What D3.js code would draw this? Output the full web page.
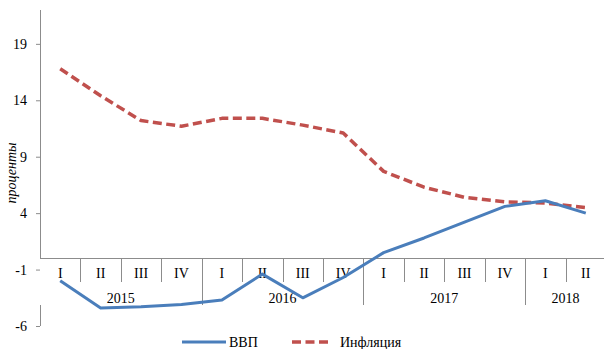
<!DOCTYPE html>
<html>
<head>
<meta charset="utf-8">
<script src="https://cdn.jsdelivr.net/npm/d3@7"></script>
<style>
  html, body { margin: 0; padding: 0; background: #fff; }
  svg { display: block; }
  text { font-family: "Liberation Serif", "Times New Roman", serif; fill: #000; }
</style>
</head>
<body>
<div id="chart"></div>
<script>
// Quarterly series, 2015 Q1 – 2018 Q2 (percent)
const quarters = ["I", "II", "III", "IV", "I", "II", "III", "IV", "I", "II", "III", "IV", "I", "II"];
const years = ["2015", "2016", "2017", "2018"];
const yearQuarterCounts = [4, 4, 4, 2];
const gdp = [-2.0, -4.4, -4.3, -4.1, -3.7, -1.4, -3.5, -1.7, 0.5, 1.8, 3.2, 4.6, 5.1, 4.0];
const inflation = [16.8, 14.4, 12.2, 11.7, 12.4, 12.4, 11.8, 11.1, 7.7, 6.3, 5.4, 5.0, 4.9, 4.5];
const yTicks = [-6, -1, 4, 9, 14, 19];
const seriesNames = ["ВВП", "Инфляция"];
const yTitle = "проценты";

const W = 604, H = 349;
const axisColor = "#8c8c8c";
const blue = "#4a7ebb";
const red = "#c0504d";
const serif = "'Liberation Serif', 'Times New Roman', serif";

const svg = d3.select("#chart").append("svg")
  .attr("width", W).attr("height", H);

const idx = quarters.map((_, i) => i);
const x = d3.scaleBand().domain(idx).range([40, 606]).padding(0);
const y = d3.scaleLinear().domain([-6, 22]).range([326, 10]);
const cx = i => x(i) + x.bandwidth() / 2;

// Value axis: ticks and labels, with the spine broken behind the category labels
const yAxis = d3.axisLeft(y).tickValues(yTicks).tickSize(4).tickPadding(9)
  .tickFormat(d => String(d));
const yg = svg.append("g").attr("transform", "translate(40,0)").call(yAxis)
  .attr("font-family", serif).attr("font-size", 14);
yg.select(".domain").remove();
yg.selectAll(".tick line").attr("stroke", axisColor);
yg.selectAll(".tick text")
  .style("font-family", serif)
  .style("font-size", "14px")
  .attr("fill", "#000");

const spine = svg.append("g").attr("stroke", axisColor).attr("stroke-width", 1);
spine.append("line").attr("x1", 40.5).attr("x2", 40.5).attr("y1", y(22)).attr("y2", y(0));
spine.append("line").attr("x1", 40.5).attr("x2", 40.5).attr("y1", 305).attr("y2", y(-6));

// Category axis along zero
const zy = Math.round(y(0)) + 0.5;
spine.append("line").attr("x1", 40).attr("x2", 606).attr("y1", zy).attr("y2", zy);

// Quarter separators (short) and year separators (long)
const yearStarts = [];
let acc = 0;
yearQuarterCounts.forEach(c => { yearStarts.push(acc); acc += c; });
for (let i = 1; i < quarters.length; i++) {
  const xx = Math.round(x(i)) + 0.5;
  const isYear = yearStarts.includes(i);
  spine.append("line")
    .attr("x1", xx).attr("x2", xx)
    .attr("y1", zy).attr("y2", isYear ? 305 : 282);
}

// Quarter labels
svg.append("g").selectAll("text").data(quarters).join("text")
  .attr("x", (d, i) => cx(i))
  .attr("y", 278)
  .attr("text-anchor", "middle")
  .style("font-size", "14px")
  .text(d => d);

// Year labels centred under their quarters
svg.append("g").selectAll("text").data(years).join("text")
  .attr("x", (d, i) => {
    const a = x(yearStarts[i]);
    const b = x(yearStarts[i] + yearQuarterCounts[i] - 1) + x.bandwidth();
    return (a + b) / 2;
  })
  .attr("y", 302.5)
  .attr("text-anchor", "middle")
  .style("font-size", "14px")
  .text(d => d);

// Axis title
svg.append("text")
  .attr("transform", "translate(16,173) rotate(-90)")
  .attr("text-anchor", "middle")
  .style("font-size", "14px")
  .style("font-style", "italic")
  .text(yTitle);

// Series lines
const line = d3.line().x((d, i) => cx(i)).y(d => y(d));

svg.append("path").datum(inflation)
  .attr("d", line)
  .attr("fill", "none")
  .attr("stroke", red)
  .attr("stroke-width", 3.5)
  .attr("stroke-dasharray", "9,4.5")
  .attr("stroke-linejoin", "round");

svg.append("path").datum(gdp)
  .attr("d", line)
  .attr("fill", "none")
  .attr("stroke", blue)
  .attr("stroke-width", 3)
  .attr("stroke-linejoin", "round");

// Legend
const lg = svg.append("g");
lg.append("line").attr("x1", 182).attr("x2", 226).attr("y1", 342).attr("y2", 342)
  .attr("stroke", blue).attr("stroke-width", 3);
lg.append("text").attr("x", 229).attr("y", 346.5).style("font-size", "14px").text(seriesNames[0]);
lg.append("line").attr("x1", 292).attr("x2", 331).attr("y1", 342).attr("y2", 342)
  .attr("stroke", red).attr("stroke-width", 3.5).attr("stroke-dasharray", "9,4.5");
lg.append("text").attr("x", 340).attr("y", 346.5).style("font-size", "14px").text(seriesNames[1]);
</script>
</body>
</html>
